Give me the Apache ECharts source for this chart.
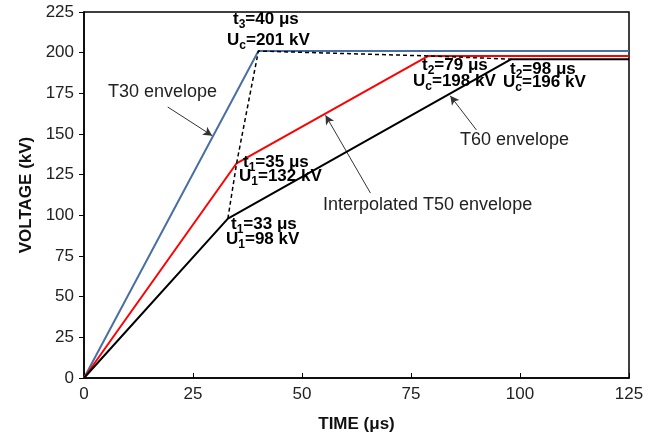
<!DOCTYPE html>
<html><head><meta charset="utf-8">
<script src="https://cdn.jsdelivr.net/npm/echarts@6/dist/echarts.min.js"></script>
<style>html,body{margin:0;padding:0;background:#fff}#c{width:663px;height:439px}</style>
</head><body><div id="c"></div>
<script>
const xTicks = [0, 25, 50, 75, 100, 125];
const yTicks = [0, 25, 50, 75, 100, 125, 150, 175, 200, 225];
const t30Envelope = [[0, 0], [40, 201], [125, 201]];
const t50Envelope = [[0, 0], [35, 132], [79, 198], [125, 198]];
const t60Envelope = [[0, 0], [33, 98], [98, 196], [125, 196]];
const cornerLine = [[33, 98], [35, 132], [40, 201], [79, 198], [98, 196]];
const arrows = [
  [[19.2, 166.6], [29.4, 149]],
  [[65.7, 113.7], [55.4, 161.5]],
  [[90, 152.5], [84, 173.5]]
];

const chart = echarts.init(document.getElementById('c'));
const F = 'Liberation Sans, Arial, sans-serif';
const rich = {
  b: {fontFamily: F, fontSize: 17, fontWeight: 'bold', color: '#111'},
  s: {fontFamily: F, fontSize: 12, fontWeight: 'bold', color: '#111', padding: [10, 0, 0, 0]}
};
function bt(x, y, str) {
  return {type: 'text', left: x, top: y, z: 100, style: {text: str, rich: rich, font: 'bold 17px ' + F}};
}
function nt(x, y, str) {
  return {type: 'text', left: x, top: y, z: 100, style: {text: str, fill: '#222', font: '18px ' + F}};
}
chart.setOption({
  animation: false,
  grid: {left: 84, right: 34, top: 12, bottom: 61, show: true, borderColor: '#000', borderWidth: 1.5},
  xAxis: {
    type: 'value', min: 0, max: 125, interval: 25,
    name: 'TIME (μs)', nameLocation: 'middle', nameGap: 38,
    nameTextStyle: {fontFamily: F, fontSize: 17, fontWeight: 'bold', color: '#111'},
    axisLine: {show: true, lineStyle: {color: '#000', width: 1.5}},
    axisTick: {show: true, inside: true, length: 5, lineStyle: {color: '#000'}},
    axisLabel: {fontFamily: F, fontSize: 17, color: '#222', margin: 8},
    splitLine: {show: false}
  },
  yAxis: {
    type: 'value', min: 0, max: 225, interval: 25,
    name: 'VOLTAGE (kV)', nameLocation: 'middle', nameGap: 49,
    nameTextStyle: {fontFamily: F, fontSize: 17, fontWeight: 'bold', color: '#111'},
    axisLine: {show: true, lineStyle: {color: '#000', width: 1.5}},
    axisTick: {show: true, inside: false, length: 5, lineStyle: {color: '#000'}},
    axisLabel: {fontFamily: F, fontSize: 17, color: '#222', margin: 10},
    splitLine: {show: false}
  },
  series: [
    {type: 'line', data: t30Envelope, symbol: 'none', lineStyle: {color: '#4a6fa5', width: 2}, z: 3},
    {type: 'line', data: t50Envelope, symbol: 'none', lineStyle: {color: '#ff0000', width: 2}, z: 4},
    {type: 'line', data: t60Envelope, symbol: 'none', lineStyle: {color: '#000', width: 2}, z: 5},
    {type: 'line', data: cornerLine, symbol: 'none', lineStyle: {color: '#000', width: 1.5, type: [4, 3]}, z: 6},
    {type: 'line', data: [], markLine: {
      silent: true, symbol: ['none', 'arrow'], symbolSize: [7, 9],
      label: {show: false},
      lineStyle: {color: '#333', width: 1, type: 'solid'},
      data: arrows.map(a => [{coord: a[0]}, {coord: a[1]}])
    }}
  ],
  graphic: [
    bt(233, 11, '{b|t}{s|3}{b|=40 μs}'),
    bt(227, 32, '{b|U}{s|c}{b|=201 kV}'),
    bt(422, 57, '{b|t}{s|2}{b|=79 μs}'),
    bt(413, 73, '{b|U}{s|c}{b|=198 kV}'),
    bt(510, 61, '{b|t}{s|2}{b|=98 μs}'),
    bt(503, 74, '{b|U}{s|c}{b|=196 kV}'),
    bt(243, 154, '{b|t}{s|1}{b|=35 μs}'),
    bt(239, 168, '{b|U}{s|1}{b|=132 kV}'),
    bt(231, 216, '{b|t}{s|1}{b|=33 μs}'),
    bt(226, 231, '{b|U}{s|1}{b|=98 kV}'),
    nt(108, 83, 'T30 envelope'),
    nt(323, 196, 'Interpolated T50 envelope'),
    nt(460, 131, 'T60 envelope')
  ]
});
</script></body></html>
